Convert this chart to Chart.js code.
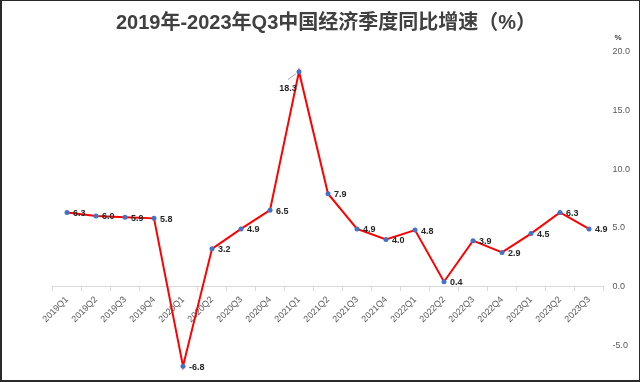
<!DOCTYPE html>
<html>
<head>
<meta charset="utf-8">
<script src="https://cdn.jsdelivr.net/npm/chart.js@4"></script>
<style>
  html, body { margin: 0; padding: 0; background: #fff; }
  #wrap { position: relative; width: 640px; height: 382px; }
  #frame { position: absolute; left: 0; top: 0; width: 640px; height: 382px; box-sizing: border-box;
           border-left: 2px solid #2a2a2a; border-top: 1px solid #2a2a2a; border-right: 1px solid #2a2a2a; border-bottom: 2px solid #2a2a2a; pointer-events: none; }
</style>
</head>
<body>
<div id="wrap">
  <canvas id="c" width="640" height="382"></canvas>
  <div id="frame"></div>
</div>
<script>
const titleText = "2019年-2023年Q3中国经济季度同比增速（%）";
const quarters = ["2019Q1","2019Q2","2019Q3","2019Q4","2020Q1","2020Q2","2020Q3","2020Q4","2021Q1","2021Q2","2021Q3","2021Q4","2022Q1","2022Q2","2022Q3","2022Q4","2023Q1","2023Q2","2023Q3"];
const growth = [6.3, 6.0, 5.9, 5.8, -6.8, 3.2, 4.9, 6.5, 18.3, 7.9, 4.9, 4.0, 4.8, 0.4, 3.9, 2.9, 4.5, 6.3, 4.9];
const yTicks = [-5, 0, 5, 10, 15, 20];
const yUnit = "%";

const labelPlugin = {
  id: 'pointLabels',
  afterDatasetsDraw(chart) {
    const ctx = chart.ctx;
    const meta = chart.getDatasetMeta(0);
    ctx.save();
    // title
    ctx.font = "bold 20px 'Liberation Sans', 'Noto Sans CJK SC', sans-serif";
    ctx.fillStyle = "#404040";
    ctx.textAlign = "center";
    ctx.textBaseline = "middle";
    ctx.fillText(titleText, 326, 23);
    // point labels
    ctx.font = "bold 9px 'Liberation Sans', Arial, sans-serif";
    ctx.fillStyle = "#262626";
    const maxV = Math.max(...growth);
    meta.data.forEach((pt, i) => {
      const v = growth[i];
      const txt = v.toFixed(1);
      if (v === maxV) {
        ctx.strokeStyle = "#a6a6a6";
        ctx.lineWidth = 1;
        ctx.beginPath();
        ctx.moveTo(pt.x - 3, pt.y + 2);
        ctx.lineTo(pt.x - 11, pt.y + 8);
        ctx.stroke();
        ctx.textAlign = "center";
        ctx.fillText(txt, pt.x - 11, pt.y + 17);
      } else {
        ctx.textAlign = "left";
        ctx.fillText(txt, pt.x + 6, pt.y + 1);
      }
    });
    const ys = chart.scales.y;
    ctx.font = "bold 8px 'Liberation Sans', Arial, sans-serif";
    ctx.fillStyle = "#404040";
    ctx.textAlign = "left";
    ctx.fillText(yUnit, ys.left + 11, ys.getPixelForValue(20) - 14);
    ctx.restore();
  }
};

new Chart(document.getElementById('c'), {
  type: 'line',
  data: {
    labels: quarters,
    datasets: [{
      data: growth,
      borderColor: '#ff0000',
      borderWidth: 2,
      tension: 0,
      pointRadius: 2.5,
      pointBackgroundColor: '#4472c4',
      pointBorderColor: '#4472c4',
      pointBorderWidth: 0
    }]
  },
  options: {
    responsive: false,
    animation: false,
    devicePixelRatio: 1,
    layout: { padding: { left: 52.5, right: 0, top: 51.7, bottom: 4 } },
    plugins: {
      legend: { display: false },
      tooltip: { enabled: false },
      title: { display: false }
    },
    scales: {
      x: {
        type: 'category',
        position: { y: 0 },
        offset: true,
        grid: { offset: true, drawOnChartArea: false, drawTicks: true, tickLength: 4, color: '#d9d9d9' },
        border: { display: true, color: '#d9d9d9', width: 1 },
        ticks: {
          minRotation: 45, maxRotation: 45, padding: 4, autoSkip: false,
          color: '#595959',
          font: { family: "'Liberation Sans', Arial, sans-serif", size: 9 }
        }
      },
      y: {
        position: 'right',
        min: -7.6,
        max: 20,
        afterBuildTicks(scale) { scale.ticks = yTicks.map(v => ({ value: v })); },
        afterFit(scale) { scale.width = 36.5; },
        grid: { display: false },
        border: { display: false },
        ticks: {
          padding: 1,
          color: '#595959',
          font: { family: "'Liberation Sans', Arial, sans-serif", size: 9 },
          callback: (v) => Number(v).toFixed(1)
        }
      }
    }
  },
  plugins: [labelPlugin]
});
</script>
</body>
</html>
